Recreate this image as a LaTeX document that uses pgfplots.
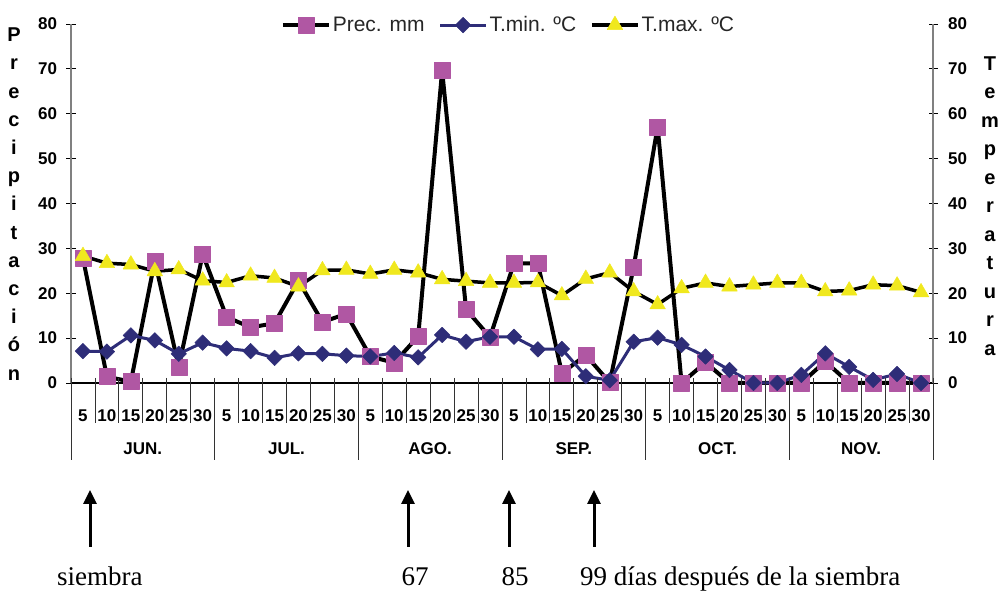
\documentclass[border=0pt]{standalone}
\usepackage{pgfplots}
\pgfplotsset{compat=1.18}
\usepackage{fontspec}
\setmainfont{Liberation Sans}
\newfontfamily\timesfont{Liberation Serif}
\usetikzlibrary{arrows.meta}
\definecolor{precc}{HTML}{B057A3}
\definecolor{tminc}{HTML}{2E2D78}
\definecolor{tmaxc}{HTML}{F0E81E}
\begin{document}
\begin{tikzpicture}[x=1pt,y=1pt]
\useasboundingbox (0,0) rectangle (999,592);
\begin{axis}[
  at={(71pt,209pt)}, anchor=south west,
  width=862pt, height=359pt, scale only axis,
  xmin=-0.5, xmax=35.5, ymin=0, ymax=80,
  clip=false,
  axis x line*=bottom, axis y line*=left,
  x axis line style={black, line width=1.3pt},
  y axis line style={gray, line width=1.6pt},
  ytick={0,10,...,80},
  xtick={0,...,35},
  xticklabels={5,10,15,20,25,30,5,10,15,20,25,30,5,10,15,20,25,30,5,10,15,20,25,30,5,10,15,20,25,30,5,10,15,20,25,30},
  xtick style={draw=none},
  tick align=center, major tick length=9pt,
  ytick style={black, line width=0.8pt},
  /pgf/number format/assume math mode=true,
  tick label style={font=\fontsize{17}{17}\selectfont\bfseries},
  xticklabel style={anchor=center, yshift=-28pt},
  yticklabel style={xshift=-6pt},
  legend columns=3,
  legend cell align=left,
  legend style={draw=none, fill=none, at={(0.5075,0.997)}, anchor=center,
    font=\fontsize{21}{21}\selectfont, text=black!85,
    /tikz/every even column/.append style={column sep=12pt}},
  legend image code/.code={\draw[mark repeat=2,mark phase=2,#1] plot coordinates {(0pt,0pt) (23pt,0pt) (46pt,0pt)};},
]
\addplot[black, line width=4pt, line join=round, mark=square*, mark size=8pt,
  mark options={fill=precc, draw=precc, line width=0.5pt}] coordinates {
(0,27.8) (1,1.4) (2,0.3) (3,27.2) (4,3.6) (5,28.7) (6,14.7) (7,12.4) (8,13.3) (9,22.8) (10,13.6) (11,15.4)
(12,5.9) (13,4.5) (14,10.4) (15,69.6) (16,16.4) (17,10.2) (18,26.7) (19,26.6) (20,2.2) (21,6.2) (22,0.1) (23,25.9)
(24,57.1) (25,0) (26,4.6) (27,0) (28,0) (29,0) (30,0) (31,4.8) (32,0) (33,0) (34,0) (35,0)};
\addlegendentry{Prec. mm}
\addplot[tminc, line width=3pt, line join=round, mark=square*, mark size=5.5pt,
  mark options={rotate=45, fill=tminc, draw=tminc, line width=0.5pt}] coordinates {
(0,7.1) (1,7.0) (2,10.6) (3,9.5) (4,6.5) (5,9.0) (6,7.7) (7,7.1) (8,5.6) (9,6.6) (10,6.5) (11,6.1)
(12,5.9) (13,6.7) (14,5.7) (15,10.7) (16,9.2) (17,10.3) (18,10.3) (19,7.5) (20,7.6) (21,1.5) (22,0.6) (23,9.2)
(24,10.1) (25,8.5) (26,5.9) (27,2.9) (28,0) (29,0) (30,1.8) (31,6.6) (32,3.6) (33,0.7) (34,2.0) (35,0)};
\addlegendentry{T.min. ºC}
\addplot[black, line width=3.5pt, line join=round, mark=triangle*, mark size=9pt,
  mark options={fill=tmaxc, draw=tmaxc, line width=0.5pt}] coordinates {
(0,28.3) (1,26.7) (2,26.4) (3,24.9) (4,25.3) (5,22.8) (6,22.4) (7,23.9) (8,23.4) (9,21.5) (10,25.1) (11,25.2)
(12,24.3) (13,25.2) (14,24.6) (15,23.1) (16,22.7) (17,22.3) (18,22.3) (19,22.4) (20,19.5) (21,23.2) (22,24.6) (23,20.4)
(24,17.5) (25,21.1) (26,22.3) (27,21.5) (28,21.9) (29,22.3) (30,22.3) (31,20.4) (32,20.6) (33,21.9) (34,21.7) (35,20.2)};
\addlegendentry{T.max. ºC}
\end{axis}
\begin{axis}[
  at={(71pt,209pt)}, anchor=south west,
  width=862pt, height=359pt, scale only axis,
  xmin=-0.5, xmax=35.5, ymin=0, ymax=80,
  axis x line=none, axis y line*=right,
  y axis line style={gray, line width=1.6pt},
  ytick={0,10,...,80},
  tick align=center, major tick length=9pt,
  ytick style={black, line width=0.8pt},
  /pgf/number format/assume math mode=true,
  tick label style={font=\fontsize{17}{17}\selectfont\bfseries},
  yticklabel style={xshift=7pt},
]
\end{axis}
% category and month separators
\foreach \k in {0,...,36} \draw[line width=0.8pt, black!80] ({71+862/36*\k},214) -- ({71+862/36*\k},169);
\foreach \k in {0,...,6} \draw[line width=0.8pt, black!80] ({71+862/6*\k},209) -- ({71+862/6*\k},132);
\foreach \m [count=\k from 0] in {JUN.,JUL.,AGO.,SEP.,OCT.,NOV.}
  \node[font=\fontsize{17}{17}\selectfont\bfseries] at ({71+862/6*(\k+0.5)},143) {\m};
% axis titles
\node[font=\fontsize{20}{28.2}\selectfont\bfseries, align=center, inner sep=0pt] at (14,388)
  {P\\r\\e\\c\\i\\p\\i\\t\\a\\c\\i\\ó\\n};
\node[font=\fontsize{20}{28.5}\selectfont\bfseries, align=center, inner sep=0pt] at (990,386)
  {T\\e\\m\\p\\e\\r\\a\\t\\u\\r\\a};
% arrows
\foreach \x in {90,408,509,594}
  \draw[line width=3pt, -{Triangle[length=14pt,width=13pt]}] (\x,45) -- (\x,102);
\node[font=\timesfont\fontsize{27}{27}\selectfont, anchor=base west, inner sep=0pt] at (57,6.5) {siembra};
\node[font=\timesfont\fontsize{27}{27}\selectfont, anchor=base, inner sep=0pt] at (415,6.5) {67};
\node[font=\timesfont\fontsize{27}{27}\selectfont, anchor=base, inner sep=0pt] at (515,6.5) {85};
\node[font=\timesfont\fontsize{27}{27}\selectfont, anchor=base west, inner sep=0pt] at (580,6.5) {99 días después de la siembra};
\end{tikzpicture}
\end{document}
